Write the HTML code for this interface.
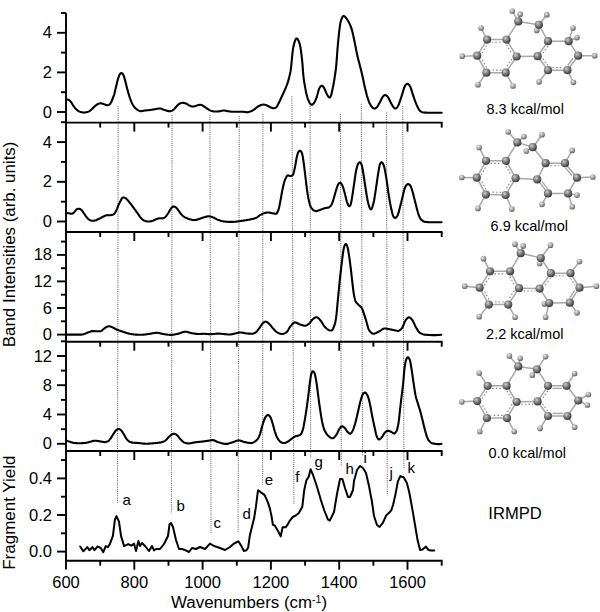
<!DOCTYPE html>
<html><head><meta charset="utf-8"><style>
html,body{margin:0;padding:0;background:#fff;}
body{width:600px;height:612px;overflow:hidden;font-family:"Liberation Sans",sans-serif;}
svg{display:block;}
</style></head><body>
<svg width="600" height="612" viewBox="0 0 600 612">
<rect width="600" height="612" fill="#fff"/>
<line x1="118.20" y1="106.2" x2="117.45" y2="503.8" stroke="#666" stroke-width="1.1" stroke-dasharray="1 1.15"/>
<line x1="172.10" y1="115.0" x2="171.40" y2="513.3" stroke="#666" stroke-width="1.1" stroke-dasharray="1 1.15"/>
<line x1="209.90" y1="114.7" x2="211.00" y2="532.7" stroke="#666" stroke-width="1.1" stroke-dasharray="1 1.15"/>
<line x1="239.30" y1="116.0" x2="238.10" y2="532.0" stroke="#666" stroke-width="1.1" stroke-dasharray="1 1.15"/>
<line x1="262.90" y1="114.0" x2="262.60" y2="484.5" stroke="#666" stroke-width="1.1" stroke-dasharray="1 1.15"/>
<line x1="291.90" y1="96.3" x2="293.90" y2="504.0" stroke="#666" stroke-width="1.1" stroke-dasharray="1 1.15"/>
<line x1="310.10" y1="106.1" x2="310.70" y2="458.7" stroke="#666" stroke-width="1.1" stroke-dasharray="1 1.15"/>
<line x1="340.50" y1="114.0" x2="341.30" y2="466.6" stroke="#666" stroke-width="1.1" stroke-dasharray="1 1.15"/>
<line x1="361.30" y1="103.8" x2="362.60" y2="455.8" stroke="#666" stroke-width="1.1" stroke-dasharray="1 1.15"/>
<line x1="386.50" y1="112.5" x2="387.30" y2="495.5" stroke="#666" stroke-width="1.1" stroke-dasharray="1 1.15"/>
<line x1="402.70" y1="106.1" x2="403.90" y2="468.0" stroke="#666" stroke-width="1.1" stroke-dasharray="1 1.15"/>
<g stroke="#000" stroke-width="1.9" fill="none" stroke-linecap="butt">
<line x1="66" y1="13" x2="66" y2="569.5"/>
<line x1="57" y1="112.0" x2="66" y2="112.0"/>
<line x1="57" y1="72.4" x2="66" y2="72.4"/>
<line x1="57" y1="32.8" x2="66" y2="32.8"/>
<line x1="61" y1="92.2" x2="66" y2="92.2"/>
<line x1="61" y1="52.6" x2="66" y2="52.6"/>
<line x1="61" y1="13.0" x2="66" y2="13.0"/>
<line x1="66" y1="122.6" x2="442.5" y2="122.6"/>
<line x1="100.2" y1="122.6" x2="100.2" y2="127.6"/>
<line x1="134.3" y1="122.6" x2="134.3" y2="131.6"/>
<line x1="168.5" y1="122.6" x2="168.5" y2="127.6"/>
<line x1="202.6" y1="122.6" x2="202.6" y2="131.6"/>
<line x1="236.8" y1="122.6" x2="236.8" y2="127.6"/>
<line x1="270.9" y1="122.6" x2="270.9" y2="131.6"/>
<line x1="305.1" y1="122.6" x2="305.1" y2="127.6"/>
<line x1="339.2" y1="122.6" x2="339.2" y2="131.6"/>
<line x1="373.4" y1="122.6" x2="373.4" y2="127.6"/>
<line x1="407.5" y1="122.6" x2="407.5" y2="131.6"/>
<line x1="441.7" y1="122.6" x2="441.7" y2="127.6"/>
<line x1="57" y1="221.5" x2="66" y2="221.5"/>
<line x1="57" y1="181.8" x2="66" y2="181.8"/>
<line x1="57" y1="142.1" x2="66" y2="142.1"/>
<line x1="61" y1="201.7" x2="66" y2="201.7"/>
<line x1="61" y1="161.9" x2="66" y2="161.9"/>
<line x1="61" y1="122.2" x2="66" y2="122.2"/>
<line x1="66" y1="232.0" x2="442.5" y2="232.0"/>
<line x1="100.2" y1="232.0" x2="100.2" y2="237.0"/>
<line x1="134.3" y1="232.0" x2="134.3" y2="241.0"/>
<line x1="168.5" y1="232.0" x2="168.5" y2="237.0"/>
<line x1="202.6" y1="232.0" x2="202.6" y2="241.0"/>
<line x1="236.8" y1="232.0" x2="236.8" y2="237.0"/>
<line x1="270.9" y1="232.0" x2="270.9" y2="241.0"/>
<line x1="305.1" y1="232.0" x2="305.1" y2="237.0"/>
<line x1="339.2" y1="232.0" x2="339.2" y2="241.0"/>
<line x1="373.4" y1="232.0" x2="373.4" y2="237.0"/>
<line x1="407.5" y1="232.0" x2="407.5" y2="241.0"/>
<line x1="441.7" y1="232.0" x2="441.7" y2="237.0"/>
<line x1="57" y1="334.6" x2="66" y2="334.6"/>
<line x1="57" y1="308.0" x2="66" y2="308.0"/>
<line x1="57" y1="281.4" x2="66" y2="281.4"/>
<line x1="57" y1="254.9" x2="66" y2="254.9"/>
<line x1="61" y1="321.3" x2="66" y2="321.3"/>
<line x1="61" y1="294.7" x2="66" y2="294.7"/>
<line x1="61" y1="268.2" x2="66" y2="268.2"/>
<line x1="61" y1="241.6" x2="66" y2="241.6"/>
<line x1="66" y1="341.7" x2="442.5" y2="341.7"/>
<line x1="100.2" y1="341.7" x2="100.2" y2="346.7"/>
<line x1="134.3" y1="341.7" x2="134.3" y2="350.7"/>
<line x1="168.5" y1="341.7" x2="168.5" y2="346.7"/>
<line x1="202.6" y1="341.7" x2="202.6" y2="350.7"/>
<line x1="236.8" y1="341.7" x2="236.8" y2="346.7"/>
<line x1="270.9" y1="341.7" x2="270.9" y2="350.7"/>
<line x1="305.1" y1="341.7" x2="305.1" y2="346.7"/>
<line x1="339.2" y1="341.7" x2="339.2" y2="350.7"/>
<line x1="373.4" y1="341.7" x2="373.4" y2="346.7"/>
<line x1="407.5" y1="341.7" x2="407.5" y2="350.7"/>
<line x1="441.7" y1="341.7" x2="441.7" y2="346.7"/>
<line x1="57" y1="443.8" x2="66" y2="443.8"/>
<line x1="57" y1="414.5" x2="66" y2="414.5"/>
<line x1="57" y1="385.2" x2="66" y2="385.2"/>
<line x1="57" y1="356.0" x2="66" y2="356.0"/>
<line x1="61" y1="429.2" x2="66" y2="429.2"/>
<line x1="61" y1="399.9" x2="66" y2="399.9"/>
<line x1="61" y1="370.6" x2="66" y2="370.6"/>
<line x1="61" y1="341.3" x2="66" y2="341.3"/>
<line x1="66" y1="451.0" x2="442.5" y2="451.0"/>
<line x1="100.2" y1="451.0" x2="100.2" y2="456.0"/>
<line x1="134.3" y1="451.0" x2="134.3" y2="460.0"/>
<line x1="168.5" y1="451.0" x2="168.5" y2="456.0"/>
<line x1="202.6" y1="451.0" x2="202.6" y2="460.0"/>
<line x1="236.8" y1="451.0" x2="236.8" y2="456.0"/>
<line x1="270.9" y1="451.0" x2="270.9" y2="460.0"/>
<line x1="305.1" y1="451.0" x2="305.1" y2="456.0"/>
<line x1="339.2" y1="451.0" x2="339.2" y2="460.0"/>
<line x1="373.4" y1="451.0" x2="373.4" y2="456.0"/>
<line x1="407.5" y1="451.0" x2="407.5" y2="460.0"/>
<line x1="441.7" y1="451.0" x2="441.7" y2="456.0"/>
<line x1="57" y1="551.6" x2="66" y2="551.6"/>
<line x1="57" y1="515.0" x2="66" y2="515.0"/>
<line x1="57" y1="478.4" x2="66" y2="478.4"/>
<line x1="61" y1="533.3" x2="66" y2="533.3"/>
<line x1="61" y1="496.7" x2="66" y2="496.7"/>
<line x1="61" y1="460.1" x2="66" y2="460.1"/>
<line x1="66" y1="560.7" x2="442.5" y2="560.7"/>
<line x1="100.2" y1="560.7" x2="100.2" y2="565.7"/>
<line x1="134.3" y1="560.7" x2="134.3" y2="569.7"/>
<line x1="168.5" y1="560.7" x2="168.5" y2="565.7"/>
<line x1="202.6" y1="560.7" x2="202.6" y2="569.7"/>
<line x1="236.8" y1="560.7" x2="236.8" y2="565.7"/>
<line x1="270.9" y1="560.7" x2="270.9" y2="569.7"/>
<line x1="305.1" y1="560.7" x2="305.1" y2="565.7"/>
<line x1="339.2" y1="560.7" x2="339.2" y2="569.7"/>
<line x1="373.4" y1="560.7" x2="373.4" y2="565.7"/>
<line x1="407.5" y1="560.7" x2="407.5" y2="569.7"/>
<line x1="441.7" y1="560.7" x2="441.7" y2="565.7"/>
</g>
<g font-family='"Liberation Sans", sans-serif' font-size="16.5" fill="#000">
<text x="52" y="117.5" text-anchor="end">0</text>
<text x="52" y="77.9" text-anchor="end">2</text>
<text x="52" y="38.3" text-anchor="end">4</text>
<text x="52" y="227.0" text-anchor="end">0</text>
<text x="52" y="187.3" text-anchor="end">2</text>
<text x="52" y="147.6" text-anchor="end">4</text>
<text x="52" y="340.1" text-anchor="end">0</text>
<text x="52" y="313.5" text-anchor="end">6</text>
<text x="52" y="286.9" text-anchor="end">12</text>
<text x="52" y="260.4" text-anchor="end">18</text>
<text x="52" y="449.3" text-anchor="end">0</text>
<text x="52" y="420.0" text-anchor="end">4</text>
<text x="52" y="390.7" text-anchor="end">8</text>
<text x="52" y="361.5" text-anchor="end">12</text>
<text x="52" y="557.1" text-anchor="end">0.0</text>
<text x="52" y="520.5" text-anchor="end">0.2</text>
<text x="52" y="483.9" text-anchor="end">0.4</text>
<text x="66.0" y="588" text-anchor="middle">600</text>
<text x="134.3" y="588" text-anchor="middle">800</text>
<text x="202.6" y="588" text-anchor="middle">1000</text>
<text x="270.9" y="588" text-anchor="middle">1200</text>
<text x="339.2" y="588" text-anchor="middle">1400</text>
<text x="407.5" y="588" text-anchor="middle">1600</text>
<text x="171" y="608" font-size="16.9">Wavenumbers (cm<tspan font-size="10.5" dy="-5.5">-1</tspan><tspan dy="5.5">)</tspan></text>
<text font-size="16.9" transform="translate(14.8,347.2) rotate(-90)">Band Intensities (arb. units)</text>
<text font-size="17" transform="translate(14.8,569.8) rotate(-90)">Fragment Yield</text>
</g>
<g stroke="#000" stroke-width="2.1" fill="none" stroke-linejoin="round" stroke-linecap="round">
<path d="M66.0,99.80 66.5,99.67 67.0,99.60 67.5,99.59 68.0,99.66 68.5,99.80 69.0,100.05 69.5,100.42 70.0,100.88 70.5,101.42 71.0,102.00 71.5,102.69 72.0,103.51 72.5,104.39 73.0,105.25 73.5,106.00 74.0,106.67 74.5,107.32 75.0,107.95 75.5,108.53 76.0,109.05 76.5,109.50 77.0,109.91 77.5,110.32 78.0,110.71 78.5,111.07 79.0,111.37 79.5,111.62 80.0,111.80 80.5,111.93 81.0,112.06 81.5,112.18 82.0,112.29 82.5,112.37 83.0,112.44 83.5,112.48 84.0,112.50 84.5,112.49 85.0,112.44 85.5,112.38 86.0,112.29 86.5,112.19 87.0,112.07 87.5,111.94 88.0,111.80 88.5,111.62 89.0,111.36 89.5,111.05 90.0,110.69 90.5,110.31 91.0,109.91 91.5,109.50 92.0,109.06 92.5,108.56 93.0,108.02 93.5,107.47 94.0,106.93 94.5,106.43 95.0,106.00 95.5,105.61 96.0,105.23 96.5,104.87 97.0,104.54 97.5,104.25 98.0,104.00 98.5,103.80 99.0,103.63 99.5,103.47 100.0,103.34 100.5,103.28 101.0,103.30 101.5,103.40 102.0,103.53 102.5,103.69 103.0,103.86 103.5,104.03 104.0,104.20 104.5,104.37 105.0,104.55 105.5,104.73 106.0,104.90 106.5,105.06 107.0,105.20 107.5,105.24 108.0,105.15 108.5,104.99 109.0,104.80 109.5,104.49 110.0,103.95 110.5,103.27 111.0,102.50 111.5,101.51 112.0,100.28 112.5,99.00 113.0,97.77 113.5,96.48 114.0,95.00 114.5,93.22 115.0,91.20 115.5,89.07 116.0,87.00 116.5,84.92 117.0,82.80 117.5,80.77 118.0,79.00 118.5,77.43 119.0,76.00 119.5,74.82 120.0,74.00 120.5,73.46 121.0,73.09 121.5,73.01 122.0,73.21 122.5,73.63 123.0,74.20 123.5,75.14 124.0,76.55 124.5,78.25 125.0,80.00 125.5,81.87 126.0,83.93 126.5,86.02 127.0,88.00 127.5,89.84 128.0,91.62 128.5,93.35 129.0,95.00 129.5,96.63 130.0,98.24 130.5,99.73 131.0,101.00 131.5,102.11 132.0,103.16 132.5,104.14 133.0,105.04 133.5,105.83 134.0,106.50 134.5,107.11 135.0,107.69 135.5,108.25 136.0,108.74 136.5,109.17 137.0,109.50 137.5,109.79 138.0,110.10 138.5,110.40 139.0,110.68 139.5,110.91 140.0,111.09 140.5,111.19 141.0,111.20 141.5,111.14 142.0,111.06 142.5,110.97 143.0,110.86 143.5,110.76 144.0,110.66 144.5,110.57 145.0,110.50 145.5,110.45 146.0,110.40 146.5,110.35 147.0,110.30 147.5,110.26 148.0,110.22 148.5,110.17 149.0,110.12 149.5,110.06 150.0,110.00 150.5,109.93 151.0,109.86 151.5,109.78 152.0,109.70 152.5,109.61 153.0,109.53 153.5,109.44 154.0,109.36 154.5,109.28 155.0,109.20 155.5,109.12 156.0,109.03 156.5,108.93 157.0,108.83 157.5,108.74 158.0,108.66 158.5,108.59 159.0,108.54 159.5,108.51 160.0,108.50 160.5,108.55 161.0,108.65 161.5,108.81 162.0,109.00 162.5,109.21 163.0,109.42 163.5,109.62 164.0,109.80 164.5,109.96 165.0,110.13 165.5,110.30 166.0,110.46 166.5,110.62 167.0,110.77 167.5,110.90 168.0,111.01 168.5,111.10 169.0,111.16 169.5,111.19 170.0,111.20 170.5,111.15 171.0,111.03 171.5,110.84 172.0,110.59 172.5,110.31 173.0,110.00 173.5,109.63 174.0,109.16 174.5,108.64 175.0,108.08 175.5,107.53 176.0,107.00 176.5,106.47 177.0,105.90 177.5,105.34 178.0,104.80 178.5,104.35 179.0,104.00 179.5,103.73 180.0,103.48 180.5,103.26 181.0,103.08 181.5,102.93 182.0,102.84 182.5,102.79 183.0,102.80 183.5,102.86 184.0,102.96 184.5,103.08 185.0,103.24 185.5,103.41 186.0,103.60 186.5,103.80 187.0,104.04 187.5,104.33 188.0,104.66 188.5,104.99 189.0,105.30 189.5,105.58 190.0,105.80 190.5,105.98 191.0,106.15 191.5,106.30 192.0,106.43 192.5,106.51 193.0,106.54 193.5,106.50 194.0,106.41 194.5,106.28 195.0,106.13 195.5,105.97 196.0,105.80 196.5,105.64 197.0,105.50 197.5,105.36 198.0,105.22 198.5,105.08 199.0,104.96 199.5,104.86 200.0,104.80 200.5,104.81 201.0,104.91 201.5,105.09 202.0,105.30 202.5,105.55 203.0,105.80 203.5,106.07 204.0,106.38 204.5,106.72 205.0,107.08 205.5,107.45 206.0,107.82 206.5,108.17 207.0,108.50 207.5,108.82 208.0,109.16 208.5,109.49 209.0,109.82 209.5,110.12 210.0,110.39 210.5,110.62 211.0,110.80 211.5,110.94 212.0,111.07 212.5,111.19 213.0,111.29 213.5,111.38 214.0,111.44 214.5,111.49 215.0,111.50 215.5,111.50 216.0,111.49 216.5,111.47 217.0,111.45 217.5,111.43 218.0,111.39 218.5,111.35 219.0,111.31 219.5,111.26 220.0,111.20 220.5,111.12 221.0,111.00 221.5,110.86 222.0,110.72 222.5,110.61 223.0,110.53 223.5,110.50 224.0,110.52 224.5,110.58 225.0,110.65 225.5,110.74 226.0,110.84 226.5,110.94 227.0,111.03 227.5,111.12 228.0,111.20 228.5,111.27 229.0,111.35 229.5,111.43 230.0,111.51 230.5,111.58 231.0,111.65 231.5,111.71 232.0,111.76 232.5,111.79 233.0,111.80 233.5,111.80 234.0,111.80 234.5,111.80 235.0,111.80 235.5,111.80 236.0,111.80 236.5,111.80 237.0,111.80 237.5,111.80 238.0,111.80 238.5,111.80 239.0,111.80 239.5,111.80 240.0,111.80 240.5,111.80 241.0,111.80 241.5,111.80 242.0,111.80 242.5,111.80 243.0,111.80 243.5,111.81 244.0,111.85 244.5,111.91 245.0,111.98 245.5,112.05 246.0,112.11 246.5,112.17 247.0,112.20 247.5,112.19 248.0,112.13 248.5,112.03 249.0,111.90 249.5,111.74 250.0,111.56 250.5,111.38 251.0,111.20 251.5,111.00 252.0,110.76 252.5,110.48 253.0,110.18 253.5,109.86 254.0,109.53 254.5,109.20 255.0,108.84 255.5,108.45 256.0,108.02 256.5,107.60 257.0,107.19 257.5,106.82 258.0,106.50 258.5,106.22 259.0,105.94 259.5,105.69 260.0,105.45 260.5,105.23 261.0,105.05 261.5,104.90 262.0,104.80 262.5,104.73 263.0,104.68 263.5,104.66 264.0,104.67 264.5,104.71 265.0,104.80 265.5,104.93 266.0,105.11 266.5,105.31 267.0,105.54 267.5,105.77 268.0,106.00 268.5,106.24 269.0,106.50 269.5,106.76 270.0,107.03 270.5,107.28 271.0,107.50 271.5,107.69 272.0,107.87 272.5,108.01 273.0,108.14 273.5,108.23 274.0,108.30 274.5,108.27 275.0,108.09 275.5,107.80 276.0,107.43 276.5,107.00 277.0,106.41 277.5,105.57 278.0,104.58 278.5,103.53 279.0,102.50 279.5,101.49 280.0,100.45 280.5,99.38 281.0,98.29 281.5,97.20 282.0,96.09 282.5,95.00 283.0,93.92 283.5,92.83 284.0,91.75 284.5,90.65 285.0,89.53 285.5,88.38 286.0,87.19 286.5,85.95 287.0,84.61 287.5,83.16 288.0,81.60 288.5,79.90 289.0,78.05 289.5,76.04 290.0,73.86 290.5,71.50 291.0,68.08 291.5,63.27 292.0,57.91 292.5,52.82 293.0,48.81 293.5,46.32 294.0,44.21 294.5,42.35 295.0,40.81 295.5,39.61 296.0,38.82 296.5,38.47 297.0,38.54 297.5,38.96 298.0,39.70 298.5,40.69 299.0,41.88 299.5,43.22 300.0,44.96 300.5,47.60 301.0,50.99 301.5,54.94 302.0,59.28 302.5,64.23 303.0,71.43 303.5,76.76 304.0,80.62 304.5,83.85 305.0,86.68 305.5,89.43 306.0,92.00 306.5,94.23 307.0,96.08 307.5,97.80 308.0,99.33 308.5,100.59 309.0,101.57 309.5,102.51 310.0,103.37 310.5,104.08 311.0,104.56 311.5,104.74 312.0,104.69 312.5,104.46 313.0,104.09 313.5,103.59 314.0,103.00 314.5,102.25 315.0,101.27 315.5,100.12 316.0,98.86 316.5,97.54 317.0,96.11 317.5,94.33 318.0,92.39 318.5,90.52 319.0,88.98 319.5,87.93 320.0,87.10 320.5,86.42 321.0,85.94 321.5,85.71 322.0,85.76 322.5,86.01 323.0,86.44 323.5,87.01 324.0,87.70 324.5,88.64 325.0,89.84 325.5,91.14 326.0,92.37 326.5,93.39 327.0,94.34 327.5,95.25 328.0,96.07 328.5,96.77 329.0,97.30 329.5,97.48 330.0,97.22 330.5,96.60 331.0,95.70 331.5,94.14 332.0,91.82 332.5,89.27 333.0,86.89 333.5,84.42 334.0,81.70 334.5,78.48 335.0,75.00 335.5,71.76 336.0,68.00 336.5,62.41 337.0,55.57 337.5,48.96 338.0,43.33 338.5,37.98 339.0,33.24 339.5,29.24 340.0,25.48 340.5,22.40 341.0,20.52 341.5,19.14 342.0,17.86 342.5,16.81 343.0,16.10 343.5,15.88 344.0,16.08 344.5,16.39 345.0,16.80 345.5,17.29 346.0,17.86 346.5,18.49 347.0,19.20 347.5,19.97 348.0,20.80 348.5,21.68 349.0,22.58 349.5,23.57 350.0,24.66 350.5,25.86 351.0,27.17 351.5,28.60 352.0,30.27 352.5,32.33 353.0,34.56 353.5,36.79 354.0,39.09 354.5,41.47 355.0,43.89 355.5,46.44 356.0,49.07 356.5,51.66 357.0,54.09 357.5,56.28 358.0,58.29 358.5,60.19 359.0,62.07 359.5,64.00 360.0,65.96 360.5,67.91 361.0,69.88 361.5,71.90 362.0,74.00 362.5,76.24 363.0,78.60 363.5,81.03 364.0,83.46 364.5,85.80 365.0,88.00 365.5,90.09 366.0,92.12 366.5,94.06 367.0,95.86 367.5,97.50 368.0,99.03 368.5,100.52 369.0,101.88 369.5,103.07 370.0,104.00 370.5,104.79 371.0,105.56 371.5,106.29 372.0,106.96 372.5,107.54 373.0,108.01 373.5,108.33 374.0,108.50 374.5,108.52 375.0,108.42 375.5,108.22 376.0,107.91 376.5,107.50 377.0,107.00 377.5,106.37 378.0,105.61 378.5,104.75 379.0,103.83 379.5,102.90 380.0,102.00 380.5,101.07 381.0,100.07 381.5,99.05 382.0,98.08 382.5,97.21 383.0,96.50 383.5,95.93 384.0,95.47 384.5,95.14 385.0,95.00 385.5,95.04 386.0,95.23 386.5,95.55 387.0,95.98 387.5,96.50 388.0,97.18 388.5,98.05 389.0,99.03 389.5,100.04 390.0,101.00 390.5,101.95 391.0,102.94 391.5,103.93 392.0,104.89 392.5,105.76 393.0,106.50 393.5,107.13 394.0,107.67 394.5,108.09 395.0,108.38 395.5,108.50 396.0,108.39 396.5,108.02 397.0,107.46 397.5,106.77 398.0,106.00 398.5,105.05 399.0,103.83 399.5,102.44 400.0,100.96 400.5,99.50 401.0,98.02 401.5,96.47 402.0,94.88 402.5,93.30 403.0,91.62 403.5,89.86 404.0,88.21 404.5,86.90 405.0,85.97 405.5,85.18 406.0,84.53 406.5,84.07 407.0,83.80 407.5,83.76 408.0,83.93 408.5,84.28 409.0,84.80 409.5,85.46 410.0,86.25 410.5,87.29 411.0,88.64 411.5,90.18 412.0,91.77 412.5,93.30 413.0,94.80 413.5,96.35 414.0,97.90 414.5,99.40 415.0,100.80 415.5,102.11 416.0,103.37 416.5,104.57 417.0,105.68 417.5,106.70 418.0,107.68 418.5,108.65 419.0,109.55 419.5,110.28 420.0,110.80 420.5,111.18 421.0,111.53 421.5,111.85 422.0,112.13 422.5,112.34 423.0,112.47 423.5,112.51 424.0,112.54 424.5,112.56 425.0,112.59 425.5,112.62 426.0,112.64 426.5,112.66 427.0,112.68 427.5,112.69 428.0,112.70 428.5,112.70 429.0,112.70 429.5,112.70 430.0,112.71 430.5,112.71 431.0,112.71 431.5,112.71 432.0,112.72 432.5,112.72 433.0,112.72 433.5,112.72 434.0,112.73 434.5,112.73 435.0,112.73 435.5,112.73 436.0,112.73 436.5,112.73 437.0,112.73 437.5,112.73 438.0,112.73 438.5,112.73 439.0,112.73 439.5,112.72 440.0,112.72 440.5,112.72 441.0,112.71 441.5,112.70 441.7,112.70"/>
<path d="M66.0,212.80 66.5,212.87 67.0,212.95 67.5,213.03 68.0,213.12 68.5,213.20 69.0,213.29 69.5,213.41 70.0,213.52 70.5,213.63 71.0,213.73 71.5,213.80 72.0,213.76 72.5,213.56 73.0,213.26 73.5,212.89 74.0,212.50 74.5,211.99 75.0,211.32 75.5,210.59 76.0,209.95 76.5,209.50 77.0,209.23 77.5,209.02 78.0,208.87 78.5,208.80 79.0,208.80 79.5,208.88 80.0,209.05 80.5,209.30 81.0,209.62 81.5,210.00 82.0,210.52 82.5,211.19 83.0,211.96 83.5,212.75 84.0,213.50 84.5,214.22 85.0,214.95 85.5,215.68 86.0,216.37 86.5,217.00 87.0,217.59 87.5,218.16 88.0,218.69 88.5,219.14 89.0,219.50 89.5,219.80 90.0,220.09 90.5,220.35 91.0,220.57 91.5,220.72 92.0,220.80 92.5,220.82 93.0,220.81 93.5,220.77 94.0,220.71 94.5,220.62 95.0,220.50 95.5,220.35 96.0,220.17 96.5,219.97 97.0,219.75 97.5,219.53 98.0,219.30 98.5,219.07 99.0,218.83 99.5,218.57 100.0,218.32 100.5,218.06 101.0,217.80 101.5,217.53 102.0,217.25 102.5,216.97 103.0,216.69 103.5,216.43 104.0,216.20 104.5,215.98 105.0,215.77 105.5,215.57 106.0,215.40 106.5,215.28 107.0,215.20 107.5,215.17 108.0,215.17 108.5,215.19 109.0,215.21 109.5,215.21 110.0,215.20 110.5,215.16 111.0,215.09 111.5,215.00 112.0,214.90 112.5,214.80 113.0,214.62 113.5,214.33 114.0,213.94 114.5,213.50 115.0,212.89 115.5,212.05 116.0,211.05 116.5,210.00 117.0,208.84 117.5,207.53 118.0,206.21 118.5,205.00 119.0,203.92 119.5,202.90 120.0,201.91 120.5,200.95 121.0,200.00 121.5,198.96 122.0,198.20 122.5,197.85 123.0,197.60 123.5,197.48 124.0,197.50 124.5,197.64 125.0,197.86 125.5,198.15 126.0,198.50 126.5,198.92 127.0,199.42 127.5,199.98 128.0,200.58 128.5,201.19 129.0,201.80 129.5,202.41 130.0,203.04 130.5,203.68 131.0,204.33 131.5,204.99 132.0,205.66 132.5,206.33 133.0,207.00 133.5,207.67 134.0,208.35 134.5,209.04 135.0,209.73 135.5,210.42 136.0,211.12 136.5,211.81 137.0,212.50 137.5,213.20 138.0,213.93 138.5,214.67 139.0,215.40 139.5,216.11 140.0,216.79 140.5,217.43 141.0,218.00 141.5,218.53 142.0,219.04 142.5,219.51 143.0,219.93 143.5,220.26 144.0,220.50 144.5,220.69 145.0,220.87 145.5,221.03 146.0,221.19 146.5,221.31 147.0,221.41 147.5,221.48 148.0,221.50 148.5,221.49 149.0,221.47 149.5,221.44 150.0,221.39 150.5,221.32 151.0,221.23 151.5,221.12 152.0,221.00 152.5,220.84 153.0,220.65 153.5,220.44 154.0,220.20 154.5,219.96 155.0,219.73 155.5,219.50 156.0,219.30 156.5,219.11 157.0,218.92 157.5,218.74 158.0,218.57 158.5,218.42 159.0,218.30 159.5,218.22 160.0,218.20 160.5,218.22 161.0,218.26 161.5,218.30 162.0,218.34 162.5,218.34 163.0,218.30 163.5,218.17 164.0,217.92 164.5,217.60 165.0,217.21 165.5,216.80 166.0,216.31 166.5,215.69 167.0,214.99 167.5,214.25 168.0,213.50 168.5,212.70 169.0,211.81 169.5,210.89 170.0,209.99 170.5,209.18 171.0,208.50 171.5,207.93 172.0,207.40 172.5,206.97 173.0,206.66 173.5,206.50 174.0,206.50 174.5,206.61 175.0,206.82 175.5,207.12 176.0,207.50 176.5,207.98 177.0,208.56 177.5,209.20 178.0,209.89 178.5,210.57 179.0,211.23 179.5,211.91 180.0,212.61 180.5,213.32 181.0,213.99 181.5,214.59 182.0,215.09 182.5,215.55 183.0,215.99 183.5,216.38 184.0,216.75 184.5,217.07 185.0,217.35 185.5,217.59 186.0,217.82 186.5,218.05 187.0,218.26 187.5,218.47 188.0,218.67 188.5,218.85 189.0,219.02 189.5,219.17 190.0,219.30 190.5,219.43 191.0,219.56 191.5,219.68 192.0,219.81 192.5,219.92 193.0,220.01 193.5,220.07 194.0,220.11 194.5,220.11 195.0,220.07 195.5,220.00 196.0,219.90 196.5,219.77 197.0,219.63 197.5,219.48 198.0,219.32 198.5,219.15 199.0,218.99 199.5,218.84 200.0,218.68 200.5,218.50 201.0,218.32 201.5,218.14 202.0,217.96 202.5,217.78 203.0,217.61 203.5,217.45 204.0,217.30 204.5,217.16 205.0,217.01 205.5,216.87 206.0,216.73 206.5,216.61 207.0,216.50 207.5,216.41 208.0,216.35 208.5,216.31 209.0,216.30 209.5,216.34 210.0,216.42 210.5,216.54 211.0,216.68 211.5,216.84 212.0,217.02 212.5,217.20 213.0,217.39 213.5,217.58 214.0,217.79 214.5,218.03 215.0,218.30 215.5,218.57 216.0,218.85 216.5,219.12 217.0,219.37 217.5,219.60 218.0,219.80 218.5,219.98 219.0,220.15 219.5,220.33 220.0,220.49 220.5,220.65 221.0,220.80 221.5,220.94 222.0,221.07 222.5,221.18 223.0,221.28 223.5,221.36 224.0,221.42 224.5,221.49 225.0,221.55 225.5,221.60 226.0,221.66 226.5,221.71 227.0,221.76 227.5,221.80 228.0,221.84 228.5,221.87 229.0,221.89 229.5,221.90 230.0,221.90 230.5,221.90 231.0,221.90 231.5,221.89 232.0,221.88 232.5,221.87 233.0,221.85 233.5,221.83 234.0,221.80 234.5,221.77 235.0,221.74 235.5,221.70 236.0,221.65 236.5,221.60 237.0,221.54 237.5,221.47 238.0,221.40 238.5,221.32 239.0,221.25 239.5,221.17 240.0,221.10 240.5,221.03 241.0,220.96 241.5,220.89 242.0,220.82 242.5,220.75 243.0,220.68 243.5,220.60 244.0,220.53 244.5,220.45 245.0,220.38 245.5,220.30 246.0,220.22 246.5,220.14 247.0,220.05 247.5,219.96 248.0,219.87 248.5,219.78 249.0,219.69 249.5,219.59 250.0,219.50 250.5,219.40 251.0,219.30 251.5,219.20 252.0,219.09 252.5,218.98 253.0,218.86 253.5,218.74 254.0,218.60 254.5,218.45 255.0,218.29 255.5,218.11 256.0,217.92 256.5,217.67 257.0,217.36 257.5,217.01 258.0,216.64 258.5,216.26 259.0,215.87 259.5,215.50 260.0,215.16 260.5,214.85 261.0,214.59 261.5,214.32 262.0,214.06 262.5,213.81 263.0,213.58 263.5,213.38 264.0,213.20 264.5,213.05 265.0,212.93 265.5,212.82 266.0,212.71 266.5,212.62 267.0,212.54 267.5,212.49 268.0,212.46 268.5,212.47 269.0,212.52 269.5,212.60 270.0,212.70 270.5,212.81 271.0,212.93 271.5,213.05 272.0,213.17 272.5,213.29 273.0,213.40 273.5,213.50 274.0,213.58 274.5,213.65 275.0,213.71 275.5,213.76 276.0,213.80 276.5,213.60 277.0,212.99 277.5,212.08 278.0,210.97 278.5,209.74 279.0,207.96 279.5,205.62 280.0,203.01 280.5,200.40 281.0,197.69 281.5,194.77 282.0,191.91 282.5,189.40 283.0,187.17 283.5,185.02 284.0,183.02 284.5,181.25 285.0,179.79 285.5,178.68 286.0,177.64 286.5,176.69 287.0,175.94 287.5,175.48 288.0,175.41 288.5,175.49 289.0,175.64 289.5,175.80 290.0,175.94 290.5,176.00 291.0,175.95 291.5,175.79 292.0,175.54 292.5,175.22 293.0,174.76 293.5,173.50 294.0,171.58 294.5,169.32 295.0,167.04 295.5,164.32 296.0,161.30 296.5,158.52 297.0,156.32 297.5,154.32 298.0,152.72 298.5,151.76 299.0,151.20 299.5,150.84 300.0,150.70 300.5,150.86 301.0,151.40 301.5,152.21 302.0,153.24 302.5,155.21 303.0,158.11 303.5,161.43 304.0,165.01 304.5,169.12 305.0,173.41 305.5,177.54 306.0,181.72 306.5,185.83 307.0,189.60 307.5,193.07 308.0,196.29 308.5,199.01 309.0,201.13 309.5,203.11 310.0,204.88 310.5,206.32 311.0,207.30 311.5,208.01 312.0,208.68 312.5,209.29 313.0,209.81 313.5,210.20 314.0,210.44 314.5,210.64 315.0,210.84 315.5,211.02 316.0,211.13 316.5,211.13 317.0,211.03 317.5,210.88 318.0,210.71 318.5,210.52 319.0,210.32 319.5,210.13 320.0,209.94 320.5,209.75 321.0,209.56 321.5,209.36 322.0,209.17 322.5,208.97 323.0,208.78 323.5,208.60 324.0,208.43 324.5,208.28 325.0,208.16 325.5,208.07 326.0,207.98 326.5,207.91 327.0,207.83 327.5,207.74 328.0,207.63 328.5,207.47 329.0,207.23 329.5,206.91 330.0,206.53 330.5,206.09 331.0,205.60 331.5,204.84 332.0,203.70 332.5,202.31 333.0,200.80 333.5,199.29 334.0,197.61 334.5,195.80 335.0,193.97 335.5,192.23 336.0,190.57 336.5,188.87 337.0,187.25 337.5,185.86 338.0,184.82 338.5,183.99 339.0,183.33 339.5,182.88 340.0,182.70 340.5,182.84 341.0,183.29 341.5,183.98 342.0,184.84 342.5,185.81 343.0,187.08 343.5,188.67 344.0,190.45 344.5,192.28 345.0,194.13 345.5,196.22 346.0,198.37 346.5,200.40 347.0,202.10 347.5,203.49 348.0,204.69 348.5,205.61 349.0,206.18 349.5,206.24 350.0,205.81 350.5,205.00 351.0,203.31 351.5,200.69 352.0,197.86 352.5,194.74 353.0,191.40 353.5,188.02 354.0,184.67 354.5,181.11 355.0,177.52 355.5,174.17 356.0,171.30 356.5,168.94 357.0,166.89 357.5,165.23 358.0,164.10 358.5,163.32 359.0,162.68 359.5,162.29 360.0,162.23 360.5,162.63 361.0,163.41 361.5,164.47 362.0,166.02 362.5,168.49 363.0,171.45 363.5,174.50 364.0,177.63 364.5,181.03 365.0,184.50 365.5,187.88 366.0,191.00 366.5,194.06 367.0,197.06 367.5,199.87 368.0,202.31 368.5,204.25 369.0,205.93 369.5,207.40 370.0,208.56 370.5,209.25 371.0,209.37 371.5,208.88 372.0,207.90 372.5,206.54 373.0,204.93 373.5,203.14 374.0,200.80 374.5,197.97 375.0,194.85 375.5,191.66 376.0,188.46 376.5,185.00 377.0,181.41 377.5,177.85 378.0,174.53 378.5,171.47 379.0,168.44 379.5,165.82 380.0,164.10 380.5,163.11 381.0,162.44 381.5,162.19 382.0,162.40 382.5,162.96 383.0,163.79 383.5,164.84 384.0,166.15 384.5,168.12 385.0,170.60 385.5,173.40 386.0,176.32 386.5,179.38 387.0,182.83 387.5,186.48 388.0,190.10 388.5,193.47 389.0,196.56 389.5,199.57 390.0,202.44 390.5,205.11 391.0,207.50 391.5,209.76 392.0,211.99 392.5,214.00 393.0,215.63 393.5,216.70 394.0,217.36 394.5,217.82 395.0,218.03 395.5,217.92 396.0,217.59 396.5,217.06 397.0,216.36 397.5,215.49 398.0,214.44 398.5,212.96 399.0,211.13 399.5,209.11 400.0,207.08 400.5,205.15 401.0,203.17 401.5,201.16 402.0,199.12 402.5,197.09 403.0,194.90 403.5,192.69 404.0,190.69 404.5,189.12 405.0,187.75 405.5,186.56 406.0,185.62 406.5,185.00 407.0,184.59 407.5,184.27 408.0,184.11 408.5,184.15 409.0,184.39 409.5,184.79 410.0,185.32 410.5,185.94 411.0,186.92 411.5,188.28 412.0,189.88 412.5,191.57 413.0,193.31 413.5,195.24 414.0,197.27 414.5,199.30 415.0,201.29 415.5,203.32 416.0,205.34 416.5,207.30 417.0,209.16 417.5,211.01 418.0,212.79 418.5,214.40 419.0,215.70 419.5,216.78 420.0,217.78 420.5,218.67 421.0,219.40 421.5,219.92 422.0,220.29 422.5,220.65 423.0,221.00 423.5,221.31 424.0,221.58 424.5,221.78 425.0,221.89 425.5,221.94 426.0,221.98 426.5,222.03 427.0,222.07 427.5,222.11 428.0,222.15 428.5,222.18 429.0,222.19 429.5,222.20 430.0,222.21 430.5,222.21 431.0,222.21 431.5,222.22 432.0,222.22 432.5,222.23 433.0,222.23 433.5,222.24 434.0,222.24 434.5,222.25 435.0,222.25 435.5,222.25 436.0,222.25 436.5,222.26 437.0,222.26 437.5,222.25 438.0,222.25 438.5,222.25 439.0,222.25 439.5,222.24 440.0,222.23 440.5,222.22 441.0,222.21 441.5,222.20 441.6,222.20"/>
<path d="M66.0,334.60 66.5,334.60 67.0,334.60 67.5,334.60 68.0,334.60 68.5,334.60 69.0,334.60 69.5,334.60 70.0,334.60 70.5,334.60 71.0,334.60 71.5,334.60 72.0,334.60 72.5,334.60 73.0,334.60 73.5,334.60 74.0,334.60 74.5,334.60 75.0,334.60 75.5,334.60 76.0,334.60 76.5,334.60 77.0,334.60 77.5,334.60 78.0,334.60 78.5,334.60 79.0,334.60 79.5,334.60 80.0,334.60 80.5,334.60 81.0,334.60 81.5,334.60 82.0,334.57 82.5,334.49 83.0,334.36 83.5,334.21 84.0,334.04 84.5,333.87 85.0,333.70 85.5,333.53 86.0,333.33 86.5,333.12 87.0,332.90 87.5,332.69 88.0,332.48 88.5,332.30 89.0,332.12 89.5,331.93 90.0,331.73 90.5,331.55 91.0,331.38 91.5,331.24 92.0,331.15 92.5,331.10 93.0,331.10 93.5,331.12 94.0,331.14 94.5,331.17 95.0,331.21 95.5,331.24 96.0,331.27 96.5,331.30 97.0,331.30 97.5,331.31 98.0,331.30 98.5,331.29 99.0,331.26 99.5,331.23 100.0,331.19 100.5,331.14 101.0,331.06 101.5,330.83 102.0,330.48 102.5,330.04 103.0,329.58 103.5,329.15 104.0,328.78 104.5,328.38 105.0,327.97 105.5,327.58 106.0,327.23 106.5,326.95 107.0,326.73 107.5,326.55 108.0,326.40 108.5,326.31 109.0,326.27 109.5,326.30 110.0,326.39 110.5,326.53 111.0,326.70 111.5,326.91 112.0,327.12 112.5,327.35 113.0,327.59 113.5,327.87 114.0,328.16 114.5,328.45 115.0,328.74 115.5,329.01 116.0,329.24 116.5,329.46 117.0,329.68 117.5,329.88 118.0,330.07 118.5,330.26 119.0,330.45 119.5,330.63 120.0,330.80 120.5,330.97 121.0,331.14 121.5,331.30 122.0,331.46 122.5,331.62 123.0,331.77 123.5,331.93 124.0,332.08 124.5,332.24 125.0,332.40 125.5,332.56 126.0,332.73 126.5,332.90 127.0,333.06 127.5,333.22 128.0,333.37 128.5,333.51 129.0,333.64 129.5,333.74 130.0,333.84 130.5,333.93 131.0,334.02 131.5,334.11 132.0,334.19 132.5,334.26 133.0,334.33 133.5,334.39 134.0,334.45 134.5,334.50 135.0,334.55 135.5,334.58 136.0,334.61 136.5,334.64 137.0,334.67 137.5,334.69 138.0,334.71 138.5,334.73 139.0,334.75 139.5,334.76 140.0,334.77 140.5,334.77 141.0,334.77 141.5,334.76 142.0,334.74 142.5,334.72 143.0,334.69 143.5,334.64 144.0,334.60 144.5,334.54 145.0,334.48 145.5,334.42 146.0,334.35 146.5,334.28 147.0,334.21 147.5,334.13 148.0,334.06 148.5,333.98 149.0,333.91 149.5,333.84 150.0,333.77 150.5,333.70 151.0,333.61 151.5,333.52 152.0,333.43 152.5,333.34 153.0,333.25 153.5,333.16 154.0,333.07 154.5,333.00 155.0,332.93 155.5,332.87 156.0,332.83 156.5,332.81 157.0,332.80 157.5,332.82 158.0,332.87 158.5,332.94 159.0,333.02 159.5,333.13 160.0,333.24 160.5,333.36 161.0,333.49 161.5,333.61 162.0,333.74 162.5,333.85 163.0,333.96 163.5,334.05 164.0,334.13 164.5,334.21 165.0,334.28 165.5,334.36 166.0,334.44 166.5,334.51 167.0,334.58 167.5,334.65 168.0,334.71 168.5,334.77 169.0,334.81 169.5,334.85 170.0,334.88 170.5,334.90 171.0,334.90 171.5,334.89 172.0,334.85 172.5,334.81 173.0,334.74 173.5,334.67 174.0,334.59 174.5,334.49 175.0,334.39 175.5,334.29 176.0,334.18 176.5,334.07 177.0,333.97 177.5,333.86 178.0,333.76 178.5,333.63 179.0,333.49 179.5,333.33 180.0,333.15 180.5,332.97 181.0,332.79 181.5,332.60 182.0,332.42 182.5,332.25 183.0,332.10 183.5,331.96 184.0,331.85 184.5,331.77 185.0,331.71 185.5,331.70 186.0,331.73 186.5,331.79 187.0,331.89 187.5,332.01 188.0,332.15 188.5,332.30 189.0,332.46 189.5,332.62 190.0,332.77 190.5,332.92 191.0,333.05 191.5,333.15 192.0,333.23 192.5,333.30 193.0,333.38 193.5,333.46 194.0,333.54 194.5,333.61 195.0,333.68 195.5,333.75 196.0,333.81 196.5,333.87 197.0,333.91 197.5,333.95 198.0,333.98 198.5,334.00 199.0,334.00 199.5,333.99 200.0,333.97 200.5,333.95 201.0,333.92 201.5,333.88 202.0,333.85 202.5,333.83 203.0,333.81 203.5,333.80 204.0,333.80 204.5,333.82 205.0,333.84 205.5,333.87 206.0,333.91 206.5,333.96 207.0,334.00 207.5,334.05 208.0,334.09 208.5,334.13 209.0,334.16 209.5,334.18 210.0,334.20 210.5,334.20 211.0,334.19 211.5,334.16 212.0,334.13 212.5,334.08 213.0,334.03 213.5,333.97 214.0,333.92 214.5,333.86 215.0,333.80 215.5,333.74 216.0,333.70 216.5,333.65 217.0,333.62 217.5,333.60 218.0,333.60 218.5,333.61 219.0,333.62 219.5,333.65 220.0,333.69 220.5,333.73 221.0,333.77 221.5,333.82 222.0,333.87 222.5,333.92 223.0,333.98 223.5,334.03 224.0,334.08 224.5,334.13 225.0,334.18 225.5,334.22 226.0,334.26 226.5,334.31 227.0,334.35 227.5,334.40 228.0,334.44 228.5,334.47 229.0,334.49 229.5,334.50 230.0,334.50 230.5,334.47 231.0,334.41 231.5,334.33 232.0,334.23 232.5,334.11 233.0,333.99 233.5,333.87 234.0,333.75 234.5,333.64 235.0,333.54 235.5,333.43 236.0,333.32 236.5,333.19 237.0,333.07 237.5,332.95 238.0,332.84 238.5,332.74 239.0,332.65 239.5,332.58 240.0,332.53 240.5,332.50 241.0,332.50 241.5,332.54 242.0,332.60 242.5,332.67 243.0,332.77 243.5,332.87 244.0,332.98 244.5,333.09 245.0,333.19 245.5,333.28 246.0,333.36 246.5,333.42 247.0,333.47 247.5,333.52 248.0,333.56 248.5,333.59 249.0,333.62 249.5,333.64 250.0,333.66 250.5,333.68 251.0,333.69 251.5,333.70 252.0,333.70 252.5,333.69 253.0,333.61 253.5,333.47 254.0,333.29 254.5,333.06 255.0,332.80 255.5,332.52 256.0,332.20 256.5,331.76 257.0,331.21 257.5,330.59 258.0,329.92 258.5,329.24 259.0,328.56 259.5,327.89 260.0,327.15 260.5,326.36 261.0,325.56 261.5,324.78 262.0,324.08 262.5,323.50 263.0,323.03 263.5,322.62 264.0,322.26 264.5,321.97 265.0,321.77 265.5,321.67 266.0,321.70 266.5,321.85 267.0,322.10 267.5,322.43 268.0,322.82 268.5,323.26 269.0,323.72 269.5,324.19 270.0,324.72 270.5,325.30 271.0,325.92 271.5,326.55 272.0,327.18 272.5,327.80 273.0,328.38 273.5,328.91 274.0,329.44 274.5,329.97 275.0,330.49 275.5,330.98 276.0,331.44 276.5,331.86 277.0,332.22 277.5,332.51 278.0,332.78 278.5,333.02 279.0,333.25 279.5,333.45 280.0,333.62 280.5,333.76 281.0,333.87 281.5,333.95 282.0,334.00 282.5,333.99 283.0,333.93 283.5,333.80 284.0,333.62 284.5,333.40 285.0,333.14 285.5,332.84 286.0,332.51 286.5,332.15 287.0,331.73 287.5,331.13 288.0,330.37 288.5,329.52 289.0,328.62 289.5,327.74 290.0,326.92 290.5,326.23 291.0,325.67 291.5,325.11 292.0,324.54 292.5,323.99 293.0,323.49 293.5,323.05 294.0,322.70 294.5,322.47 295.0,322.38 295.5,322.44 296.0,322.58 296.5,322.76 297.0,322.98 297.5,323.23 298.0,323.49 298.5,323.74 299.0,323.99 299.5,324.21 300.0,324.40 300.5,324.57 301.0,324.74 301.5,324.91 302.0,325.07 302.5,325.23 303.0,325.37 303.5,325.49 304.0,325.60 304.5,325.68 305.0,325.71 305.5,325.66 306.0,325.53 306.5,325.34 307.0,325.09 307.5,324.79 308.0,324.47 308.5,324.14 309.0,323.77 309.5,323.27 310.0,322.67 310.5,322.00 311.0,321.31 311.5,320.63 312.0,320.01 312.5,319.48 313.0,319.05 313.5,318.65 314.0,318.28 314.5,317.95 315.0,317.67 315.5,317.46 316.0,317.32 316.5,317.29 317.0,317.36 317.5,317.56 318.0,317.88 318.5,318.30 319.0,318.78 319.5,319.32 320.0,319.89 320.5,320.47 321.0,321.07 321.5,321.77 322.0,322.56 322.5,323.39 323.0,324.23 323.5,325.05 324.0,325.81 324.5,326.47 325.0,327.02 325.5,327.53 326.0,328.01 326.5,328.46 327.0,328.87 327.5,329.24 328.0,329.58 328.5,329.89 329.0,330.15 329.5,330.34 330.0,330.45 330.5,330.50 331.0,330.49 331.5,330.42 332.0,330.30 332.5,329.86 333.0,328.95 333.5,327.76 334.0,326.49 334.5,325.20 335.0,323.48 335.5,321.22 336.0,318.40 336.5,314.44 337.0,309.30 337.5,303.68 338.0,298.30 338.5,293.21 339.0,288.08 339.5,283.03 340.0,278.20 340.5,273.56 341.0,269.06 341.5,264.78 342.0,260.80 342.5,256.86 343.0,253.00 343.5,249.68 344.0,247.40 344.5,245.91 345.0,244.76 345.5,244.10 346.0,244.07 346.5,244.63 347.0,245.65 347.5,247.01 348.0,249.23 348.5,252.19 349.0,255.40 349.5,258.77 350.0,262.47 350.5,266.39 351.0,270.45 351.5,274.83 352.0,279.33 352.5,283.60 353.0,287.79 353.5,291.84 354.0,295.10 354.5,297.42 355.0,299.46 355.5,301.09 356.0,302.16 356.5,302.76 357.0,303.29 357.5,303.77 358.0,304.24 358.5,304.71 359.0,305.20 359.5,305.66 360.0,306.11 360.5,306.58 361.0,307.10 361.5,307.70 362.0,308.52 362.5,309.63 363.0,310.93 363.5,312.35 364.0,313.82 364.5,315.30 365.0,316.91 365.5,318.61 366.0,320.33 366.5,322.00 367.0,323.74 367.5,325.60 368.0,327.40 368.5,328.94 369.0,330.05 369.5,330.74 370.0,331.38 370.5,331.97 371.0,332.49 371.5,332.94 372.0,333.30 372.5,333.57 373.0,333.73 373.5,333.78 374.0,333.70 374.5,333.55 375.0,333.37 375.5,333.18 376.0,332.98 376.5,332.76 377.0,332.53 377.5,332.29 378.0,332.05 378.5,331.80 379.0,331.55 379.5,331.26 380.0,330.94 380.5,330.59 381.0,330.22 381.5,329.86 382.0,329.51 382.5,329.20 383.0,328.92 383.5,328.71 384.0,328.56 384.5,328.50 385.0,328.50 385.5,328.52 386.0,328.57 386.5,328.63 387.0,328.71 387.5,328.81 388.0,328.91 388.5,329.02 389.0,329.13 389.5,329.24 390.0,329.34 390.5,329.44 391.0,329.54 391.5,329.63 392.0,329.73 392.5,329.84 393.0,329.95 393.5,330.06 394.0,330.17 394.5,330.28 395.0,330.39 395.5,330.49 396.0,330.59 396.5,330.69 397.0,330.78 397.5,330.86 398.0,330.92 398.5,330.87 399.0,330.70 399.5,330.43 400.0,330.07 400.5,329.64 401.0,329.16 401.5,328.64 402.0,328.10 402.5,327.36 403.0,326.30 403.5,325.04 404.0,323.70 404.5,322.41 405.0,321.27 405.5,320.40 406.0,319.72 406.5,319.07 407.0,318.49 407.5,317.99 408.0,317.61 408.5,317.37 409.0,317.30 409.5,317.41 410.0,317.66 410.5,318.04 411.0,318.53 411.5,319.10 412.0,319.73 412.5,320.40 413.0,321.19 413.5,322.16 414.0,323.23 414.5,324.36 415.0,325.47 415.5,326.50 416.0,327.40 416.5,328.22 417.0,329.04 417.5,329.85 418.0,330.62 418.5,331.33 419.0,331.96 419.5,332.49 420.0,332.88 420.5,333.16 421.0,333.41 421.5,333.65 422.0,333.87 422.5,334.07 423.0,334.25 423.5,334.40 424.0,334.53 424.5,334.63 425.0,334.69 425.5,334.73 426.0,334.77 426.5,334.80 427.0,334.84 427.5,334.87 428.0,334.91 428.5,334.94 429.0,334.97 429.5,334.99 430.0,335.02 430.5,335.04 431.0,335.06 431.5,335.08 432.0,335.09 432.5,335.11 433.0,335.11 433.5,335.12 434.0,335.12 434.5,335.12 435.0,335.12 435.5,335.11 436.0,335.10 436.5,335.08 437.0,335.06 437.5,335.04 438.0,335.01 438.5,334.97 439.0,334.93 439.5,334.89 440.0,334.84 440.5,334.79 441.0,334.73 441.2,334.70"/>
<path d="M66.0,440.40 66.5,440.60 67.0,440.81 67.5,441.00 68.0,441.19 68.5,441.37 69.0,441.54 69.5,441.71 70.0,441.86 70.5,442.02 71.0,442.18 71.5,442.33 72.0,442.48 72.5,442.63 73.0,442.75 73.5,442.86 74.0,442.94 74.5,443.00 75.0,443.04 75.5,443.07 76.0,443.11 76.5,443.13 77.0,443.16 77.5,443.18 78.0,443.19 78.5,443.20 79.0,443.21 79.5,443.21 80.0,443.20 80.5,443.20 81.0,443.18 81.5,443.17 82.0,443.15 82.5,443.12 83.0,443.10 83.5,443.06 84.0,443.02 84.5,442.98 85.0,442.93 85.5,442.88 86.0,442.82 86.5,442.76 87.0,442.66 87.5,442.55 88.0,442.41 88.5,442.27 89.0,442.11 89.5,441.96 90.0,441.81 90.5,441.68 91.0,441.55 91.5,441.42 92.0,441.27 92.5,441.13 93.0,440.99 93.5,440.88 94.0,440.78 94.5,440.72 95.0,440.70 95.5,440.71 96.0,440.75 96.5,440.80 97.0,440.87 97.5,440.95 98.0,441.03 98.5,441.12 99.0,441.20 99.5,441.28 100.0,441.36 100.5,441.45 101.0,441.54 101.5,441.63 102.0,441.72 102.5,441.82 103.0,441.90 103.5,441.99 104.0,442.06 104.5,442.12 105.0,442.11 105.5,442.05 106.0,441.93 106.5,441.78 107.0,441.60 107.5,441.41 108.0,441.21 108.5,440.87 109.0,440.40 109.5,439.84 110.0,439.21 110.5,438.56 111.0,437.89 111.5,437.13 112.0,436.31 112.5,435.46 113.0,434.63 113.5,433.85 114.0,433.11 114.5,432.35 115.0,431.62 115.5,430.94 116.0,430.35 116.5,429.90 117.0,429.56 117.5,429.28 118.0,429.09 118.5,429.00 119.0,429.02 119.5,429.17 120.0,429.44 120.5,429.79 121.0,430.21 121.5,430.72 122.0,431.37 122.5,432.13 123.0,432.96 123.5,433.81 124.0,434.64 124.5,435.46 125.0,436.34 125.5,437.24 126.0,438.10 126.5,438.87 127.0,439.50 127.5,440.02 128.0,440.51 128.5,440.95 129.0,441.34 129.5,441.67 130.0,441.92 130.5,442.10 131.0,442.23 131.5,442.36 132.0,442.49 132.5,442.60 133.0,442.69 133.5,442.76 134.0,442.80 134.5,442.82 135.0,442.83 135.5,442.84 136.0,442.85 136.5,442.87 137.0,442.90 137.5,442.94 138.0,442.99 138.5,443.04 139.0,443.09 139.5,443.15 140.0,443.21 140.5,443.27 141.0,443.33 141.5,443.39 142.0,443.45 142.5,443.51 143.0,443.56 143.5,443.60 144.0,443.64 144.5,443.67 145.0,443.69 145.5,443.71 146.0,443.71 146.5,443.71 147.0,443.70 147.5,443.69 148.0,443.67 148.5,443.64 149.0,443.61 149.5,443.58 150.0,443.54 150.5,443.51 151.0,443.47 151.5,443.43 152.0,443.39 152.5,443.36 153.0,443.32 153.5,443.29 154.0,443.25 154.5,443.21 155.0,443.16 155.5,443.11 156.0,443.06 156.5,443.00 157.0,442.94 157.5,442.88 158.0,442.81 158.5,442.75 159.0,442.68 159.5,442.61 160.0,442.54 160.5,442.47 161.0,442.38 161.5,442.26 162.0,442.11 162.5,441.95 163.0,441.76 163.5,441.55 164.0,441.32 164.5,441.07 165.0,440.80 165.5,440.46 166.0,440.03 166.5,439.52 167.0,438.96 167.5,438.38 168.0,437.81 168.5,437.27 169.0,436.79 169.5,436.36 170.0,435.92 170.5,435.49 171.0,435.07 171.5,434.69 172.0,434.35 172.5,434.07 173.0,433.86 173.5,433.74 174.0,433.71 174.5,433.79 175.0,433.94 175.5,434.16 176.0,434.44 176.5,434.76 177.0,435.14 177.5,435.62 178.0,436.19 178.5,436.81 179.0,437.47 179.5,438.12 180.0,438.74 180.5,439.30 181.0,439.79 181.5,440.26 182.0,440.74 182.5,441.21 183.0,441.64 183.5,442.03 184.0,442.35 184.5,442.60 185.0,442.76 185.5,442.90 186.0,443.03 186.5,443.15 187.0,443.26 187.5,443.35 188.0,443.41 188.5,443.45 189.0,443.44 189.5,443.40 190.0,443.33 190.5,443.24 191.0,443.15 191.5,443.04 192.0,442.94 192.5,442.83 193.0,442.72 193.5,442.61 194.0,442.51 194.5,442.42 195.0,442.34 195.5,442.27 196.0,442.21 196.5,442.16 197.0,442.10 197.5,442.05 198.0,442.01 198.5,441.96 199.0,441.91 199.5,441.87 200.0,441.82 200.5,441.77 201.0,441.72 201.5,441.66 202.0,441.60 202.5,441.54 203.0,441.47 203.5,441.40 204.0,441.34 204.5,441.27 205.0,441.20 205.5,441.13 206.0,441.06 206.5,440.98 207.0,440.91 207.5,440.84 208.0,440.77 208.5,440.69 209.0,440.60 209.5,440.50 210.0,440.41 210.5,440.31 211.0,440.23 211.5,440.17 212.0,440.12 212.5,440.10 213.0,440.13 213.5,440.22 214.0,440.36 214.5,440.54 215.0,440.75 215.5,440.99 216.0,441.23 216.5,441.48 217.0,441.71 217.5,441.93 218.0,442.11 218.5,442.26 219.0,442.40 219.5,442.55 220.0,442.70 220.5,442.85 221.0,443.00 221.5,443.15 222.0,443.29 222.5,443.42 223.0,443.54 223.5,443.65 224.0,443.74 224.5,443.81 225.0,443.87 225.5,443.90 226.0,443.92 226.5,443.90 227.0,443.86 227.5,443.78 228.0,443.68 228.5,443.56 229.0,443.43 229.5,443.28 230.0,443.12 230.5,442.96 231.0,442.80 231.5,442.64 232.0,442.49 232.5,442.34 233.0,442.18 233.5,442.00 234.0,441.81 234.5,441.61 235.0,441.40 235.5,441.20 236.0,441.02 236.5,440.84 237.0,440.69 237.5,440.56 238.0,440.47 238.5,440.41 239.0,440.40 239.5,440.45 240.0,440.54 240.5,440.68 241.0,440.84 241.5,441.02 242.0,441.22 242.5,441.41 243.0,441.60 243.5,441.76 244.0,441.90 244.5,442.02 245.0,442.13 245.5,442.25 246.0,442.36 246.5,442.47 247.0,442.57 247.5,442.66 248.0,442.75 248.5,442.84 249.0,442.91 249.5,442.97 250.0,443.03 250.5,443.07 251.0,443.10 251.5,443.08 252.0,442.98 252.5,442.82 253.0,442.60 253.5,442.34 254.0,442.05 254.5,441.74 255.0,441.43 255.5,441.12 256.0,440.80 256.5,440.35 257.0,439.80 257.5,439.17 258.0,438.50 258.5,437.67 259.0,436.61 259.5,435.36 260.0,434.00 260.5,432.42 261.0,430.58 261.5,428.63 262.0,426.72 262.5,425.00 263.0,423.40 263.5,421.82 264.0,420.33 264.5,419.04 265.0,418.00 265.5,417.15 266.0,416.39 266.5,415.74 267.0,415.27 267.5,415.00 268.0,414.96 268.5,415.11 269.0,415.44 269.5,415.91 270.0,416.50 270.5,417.34 271.0,418.51 271.5,419.92 272.0,421.45 272.5,423.00 273.0,424.69 273.5,426.58 274.0,428.53 274.5,430.39 275.0,432.00 275.5,433.42 276.0,434.79 276.5,436.08 277.0,437.23 277.5,438.22 278.0,439.00 278.5,439.66 279.0,440.31 279.5,440.91 280.0,441.45 280.5,441.91 281.0,442.27 281.5,442.50 282.0,442.66 282.5,442.82 283.0,442.95 283.5,443.03 284.0,443.05 284.5,443.00 285.0,442.88 285.5,442.72 286.0,442.53 286.5,442.30 287.0,442.05 287.5,441.79 288.0,441.50 288.5,441.19 289.0,440.84 289.5,440.46 290.0,440.06 290.5,439.66 291.0,439.26 291.5,438.87 292.0,438.50 292.5,438.14 293.0,437.76 293.5,437.40 294.0,437.06 294.5,436.75 295.0,436.50 295.5,436.30 296.0,436.14 296.5,436.01 297.0,435.89 297.5,435.77 298.0,435.65 298.5,435.50 299.0,435.32 299.5,435.11 300.0,434.87 300.5,434.60 301.0,434.09 301.5,433.19 302.0,432.02 302.5,430.68 303.0,429.07 303.5,426.90 304.0,424.32 304.5,421.49 305.0,418.56 305.5,415.62 306.0,412.47 306.5,409.12 307.0,405.61 307.5,401.97 308.0,398.24 308.5,394.12 309.0,389.77 309.5,385.58 310.0,381.83 310.5,378.10 311.0,374.88 311.5,372.90 312.0,371.95 312.5,371.39 313.0,371.34 313.5,371.66 314.0,372.27 314.5,373.09 315.0,374.63 315.5,376.91 316.0,379.65 316.5,382.61 317.0,386.10 317.5,390.07 318.0,394.10 318.5,397.88 319.0,401.60 319.5,405.27 320.0,408.79 320.5,412.11 321.0,415.39 321.5,418.49 322.0,421.22 322.5,423.43 323.0,425.45 323.5,427.31 324.0,428.95 324.5,430.29 325.0,431.27 325.5,432.11 326.0,432.91 326.5,433.67 327.0,434.37 327.5,435.01 328.0,435.58 328.5,436.06 329.0,436.45 329.5,436.84 330.0,437.21 330.5,437.57 331.0,437.87 331.5,438.11 332.0,438.26 332.5,438.31 333.0,438.23 333.5,438.00 334.0,437.63 334.5,437.14 335.0,436.57 335.5,435.93 336.0,435.24 336.5,434.54 337.0,433.75 337.5,432.76 338.0,431.66 338.5,430.57 339.0,429.59 339.5,428.80 340.0,428.06 340.5,427.37 341.0,426.80 341.5,426.42 342.0,426.30 342.5,426.37 343.0,426.58 343.5,426.90 344.0,427.31 344.5,427.78 345.0,428.29 345.5,428.85 346.0,429.55 346.5,430.32 347.0,431.08 347.5,431.77 348.0,432.32 348.5,432.82 349.0,433.23 349.5,433.54 350.0,433.70 350.5,433.60 351.0,433.19 351.5,432.56 352.0,431.80 352.5,431.00 353.0,430.03 353.5,428.76 354.0,427.28 354.5,425.67 355.0,424.00 355.5,422.23 356.0,420.29 356.5,418.23 357.0,416.11 357.5,414.00 358.0,411.82 358.5,409.53 359.0,407.23 359.5,405.02 360.0,403.00 360.5,401.10 361.0,399.23 361.5,397.52 362.0,396.08 362.5,395.00 363.0,394.18 363.5,393.46 364.0,392.91 364.5,392.57 365.0,392.51 365.5,392.74 366.0,393.20 366.5,393.80 367.0,394.50 367.5,395.42 368.0,396.71 368.5,398.28 369.0,400.07 369.5,402.00 370.0,404.22 370.5,406.80 371.0,409.58 371.5,412.37 372.0,415.00 372.5,417.49 373.0,419.96 373.5,422.39 374.0,424.74 374.5,427.00 375.0,429.29 375.5,431.63 376.0,433.83 376.5,435.68 377.0,437.00 377.5,437.95 378.0,438.76 378.5,439.33 379.0,439.54 379.5,439.36 380.0,439.04 380.5,438.63 381.0,438.14 381.5,437.59 382.0,437.00 382.5,436.31 383.0,435.50 383.5,434.63 384.0,433.80 384.5,433.06 385.0,432.50 385.5,432.05 386.0,431.64 386.5,431.27 387.0,431.00 387.5,430.83 388.0,430.80 388.5,430.88 389.0,431.01 389.5,431.18 390.0,431.38 390.5,431.59 391.0,431.80 391.5,432.04 392.0,432.34 392.5,432.66 393.0,432.98 393.5,433.27 394.0,433.50 394.5,433.48 395.0,433.10 395.5,432.49 396.0,431.75 396.5,431.00 397.0,429.90 397.5,428.10 398.0,425.75 398.5,423.00 399.0,419.30 399.5,414.65 400.0,410.00 400.5,405.64 401.0,401.27 401.5,397.00 402.0,393.04 402.5,389.21 403.0,385.00 403.5,379.53 404.0,373.40 404.5,368.34 405.0,365.03 405.5,362.26 406.0,360.13 406.5,358.80 407.0,357.95 407.5,357.34 408.0,357.22 408.5,357.55 409.0,358.22 409.5,359.16 410.0,360.49 410.5,362.78 411.0,365.71 411.5,368.91 412.0,372.06 412.5,375.47 413.0,379.07 413.5,382.63 414.0,385.94 414.5,389.20 415.0,392.35 415.5,395.13 416.0,397.30 416.5,399.11 417.0,400.74 417.5,402.28 418.0,403.85 418.5,405.49 419.0,407.11 419.5,408.74 420.0,410.40 420.5,412.14 421.0,414.00 421.5,415.97 422.0,418.01 422.5,420.07 423.0,422.10 423.5,424.16 424.0,426.27 424.5,428.35 425.0,430.29 425.5,432.03 426.0,433.70 426.5,435.33 427.0,436.87 427.5,438.24 428.0,439.39 428.5,440.25 429.0,440.82 429.5,441.33 430.0,441.81 430.5,442.24 431.0,442.62 431.5,442.94 432.0,443.18 432.5,443.36 433.0,443.46 433.5,443.55 434.0,443.64 434.5,443.72 435.0,443.80 435.5,443.88 436.0,443.94 436.5,444.00 437.0,444.04 437.5,444.08 438.0,444.10 438.5,444.11 439.0,444.10 439.5,444.08 440.0,444.04 440.5,443.98 441.0,443.90 441.5,443.80"/>
<path d="M80.2,546.5 L83.3,551.2 L87.3,547.1 L89.4,550.2 L92.4,547.1 L94.5,550.2 L97.6,546.5 L100.6,547.8 L103.3,552.2 L105.7,546.1 L107.8,547.1 L109.8,544.1 L112.9,535.9 L114.9,519.6 L116.5,516.1 L119.0,521.6 L121.0,535.9 L124.1,546.1 L128.2,544.1 L131.2,545.7 L134.0,543.6 L136.0,551.0 L138.4,541.0 L140.0,546.0 L142.0,543.0 L145.0,546.0 L149.0,551.0 L152.0,546.0 L154.0,550.4 L156.0,549.0 L160.0,549.0 L164.0,544.0 L168.0,536.0 L169.6,524.0 L171.0,523.0 L173.0,527.0 L176.0,540.0 L179.0,549.0 L182.0,549.0 L185.0,550.0 L189.0,552.0 L192.0,548.0 L196.0,549.0 L200.0,547.0 L205.0,549.0 L210.0,543.6 L214.0,546.0 L220.0,548.0 L225.0,550.0 L230.0,547.0 L234.0,543.6 L236.0,542.5 L238.4,541.3 L241.4,546.1 L243.9,551.0 L246.3,550.3 L248.1,547.9 L249.9,535.2 L252.3,525.5 L254.1,518.3 L256.0,506.2 L257.5,494.1 L258.1,490.2 L260.8,492.3 L263.8,494.3 L265.0,495.9 L268.0,502.6 L269.9,508.6 L271.7,517.0 L272.9,524.9 L274.7,525.5 L277.7,530.4 L280.7,536.4 L282.6,527.3 L285.6,527.3 L287.4,524.9 L289.8,520.7 L292.8,517.0 L295.9,515.3 L298.7,513.3 L302.3,506.8 L304.2,490.3 L306.4,480.3 L308.8,476.6 L310.6,469.3 L313.3,475.7 L317.0,486.7 L320.7,499.5 L324.3,510.5 L328.0,519.7 L329.8,520.6 L334.0,512.0 L337.0,494.0 L340.0,479.0 L342.4,479.0 L345.0,488.0 L348.0,497.0 L350.0,497.0 L353.0,490.0 L354.0,481.0 L357.0,470.0 L360.0,466.0 L363.0,468.0 L366.0,473.0 L369.0,486.0 L372.0,502.0 L374.0,516.0 L377.0,525.0 L379.6,527.0 L383.0,522.7 L386.3,515.2 L388.8,513.1 L391.3,510.3 L393.2,504.5 L395.4,494.6 L397.9,481.4 L400.3,476.1 L403.6,477.3 L406.9,483.0 L409.4,493.0 L412.7,511.1 L415.2,526.0 L417.7,540.8 L420.1,549.9 L422.6,549.4 L425.9,546.6 L428.4,549.9 L430.9,550.4 L434.2,550.4" stroke-width="2"/>
</g>
<g font-family='"Liberation Sans", sans-serif' font-size="15" fill="#000">
<text x="122.4" y="505.0">a</text>
<text x="176.4" y="511.0">b</text>
<text x="213.4" y="528.0">c</text>
<text x="242.4" y="519.0">d</text>
<text x="264.7" y="484.8">e</text>
<text x="295.3" y="482.0">f</text>
<text x="314.4" y="466.5">g</text>
<text x="345.4" y="473.5">h</text>
<text x="363.4" y="462.8">i</text>
<text x="389.4" y="478.0">j</text>
<text x="407.4" y="473.0">k</text>
</g>
<defs><radialGradient id="gc" cx="0.38" cy="0.33" r="0.7"><stop offset="0" stop-color="#cfcfcf"/><stop offset="0.45" stop-color="#808080"/><stop offset="1" stop-color="#333"/></radialGradient><radialGradient id="gh" cx="0.38" cy="0.33" r="0.7"><stop offset="0" stop-color="#e8e8e8"/><stop offset="0.5" stop-color="#a8a8a8"/><stop offset="1" stop-color="#5e5e5e"/></radialGradient></defs>
<g stroke="#a8a8a8" stroke-width="1.5" stroke-linecap="round">
<line x1="487.1" y1="39.6" x2="481.1" y2="28.0"/>
<line x1="477.2" y1="55.7" x2="462.2" y2="56.2"/>
<line x1="486.4" y1="72.7" x2="478.0" y2="84.7"/>
<line x1="505.7" y1="72.7" x2="513.0" y2="86.0"/>
<line x1="518.3" y1="21.4" x2="512.3" y2="11.0"/>
<line x1="518.3" y1="21.4" x2="520.2" y2="14.2"/>
<line x1="538.9" y1="24.8" x2="546.8" y2="14.7"/>
<line x1="538.9" y1="24.8" x2="536.7" y2="30.4"/>
<line x1="568.6" y1="41.2" x2="573.0" y2="28.0"/>
<line x1="568.6" y1="41.2" x2="577.0" y2="37.6"/>
<line x1="578.2" y1="55.7" x2="594.7" y2="55.7"/>
<line x1="567.4" y1="70.2" x2="573.4" y2="82.3"/>
<line x1="548.0" y1="70.2" x2="539.1" y2="81.8"/>
<line x1="487.1" y1="39.6" x2="506.5" y2="39.6"/>
<line x1="506.5" y1="39.6" x2="516.6" y2="56.5"/>
<line x1="516.6" y1="56.5" x2="505.7" y2="72.7"/>
<line x1="505.7" y1="72.7" x2="486.4" y2="72.7"/>
<line x1="486.4" y1="72.7" x2="477.2" y2="55.7"/>
<line x1="477.2" y1="55.7" x2="487.1" y2="39.6"/>
<line x1="506.5" y1="39.6" x2="518.3" y2="21.4"/>
<line x1="518.3" y1="21.4" x2="538.9" y2="24.8"/>
<line x1="538.9" y1="24.8" x2="548.0" y2="41.2"/>
<line x1="548.0" y1="41.2" x2="537.6" y2="56.2"/>
<line x1="516.6" y1="56.5" x2="537.6" y2="56.2"/>
<line x1="537.6" y1="56.2" x2="548.0" y2="70.2"/>
<line x1="548.0" y1="70.2" x2="567.4" y2="70.2"/>
<line x1="567.4" y1="70.2" x2="578.2" y2="55.7"/>
<line x1="578.2" y1="55.7" x2="568.6" y2="41.2"/>
<line x1="568.6" y1="41.2" x2="548.0" y2="41.2"/>
</g>
<line x1="491.6" y1="42.2" x2="502.0" y2="42.2" stroke="#888" stroke-width="1.1" stroke-dasharray="1.6 2"/>
<line x1="506.5" y1="44.7" x2="512.0" y2="53.9" stroke="#888" stroke-width="1.1" stroke-dasharray="1.6 2"/>
<line x1="511.8" y1="58.9" x2="506.0" y2="67.7" stroke="#888" stroke-width="1.1" stroke-dasharray="1.6 2"/>
<line x1="501.3" y1="70.1" x2="491.0" y2="70.1" stroke="#888" stroke-width="1.1" stroke-dasharray="1.6 2"/>
<line x1="486.5" y1="67.5" x2="481.6" y2="58.4" stroke="#888" stroke-width="1.1" stroke-dasharray="1.6 2"/>
<line x1="481.8" y1="53.2" x2="487.0" y2="44.8" stroke="#888" stroke-width="1.1" stroke-dasharray="1.6 2"/>
<line x1="542.6" y1="58.7" x2="547.7" y2="65.4" stroke="#888" stroke-width="1.1" stroke-dasharray="1.6 2"/>
<line x1="552.5" y1="67.6" x2="562.9" y2="67.6" stroke="#888" stroke-width="1.1" stroke-dasharray="1.6 2"/>
<line x1="547.8" y1="46.0" x2="542.5" y2="53.6" stroke="#888" stroke-width="1.1" stroke-dasharray="1.6 2"/>
<line x1="567.7" y1="65.5" x2="573.2" y2="58.2" stroke="#a8a8a8" stroke-width="1.4"/>
<circle cx="481.1" cy="28.0" r="2.85" fill="url(#gh)"/>
<circle cx="462.2" cy="56.2" r="2.85" fill="url(#gh)"/>
<circle cx="478.0" cy="84.7" r="2.85" fill="url(#gh)"/>
<circle cx="513.0" cy="86.0" r="2.85" fill="url(#gh)"/>
<circle cx="512.3" cy="11.0" r="2.85" fill="url(#gh)"/>
<circle cx="520.2" cy="14.2" r="2.85" fill="url(#gh)"/>
<circle cx="546.8" cy="14.7" r="2.85" fill="url(#gh)"/>
<circle cx="536.7" cy="30.4" r="2.85" fill="url(#gh)"/>
<circle cx="573.0" cy="28.0" r="2.85" fill="url(#gh)"/>
<circle cx="577.0" cy="37.6" r="2.85" fill="url(#gh)"/>
<circle cx="594.7" cy="55.7" r="2.85" fill="url(#gh)"/>
<circle cx="573.4" cy="82.3" r="2.85" fill="url(#gh)"/>
<circle cx="539.1" cy="81.8" r="2.85" fill="url(#gh)"/>
<circle cx="487.1" cy="39.6" r="4.1" fill="url(#gc)"/>
<circle cx="506.5" cy="39.6" r="4.1" fill="url(#gc)"/>
<circle cx="516.6" cy="56.5" r="4.1" fill="url(#gc)"/>
<circle cx="505.7" cy="72.7" r="4.1" fill="url(#gc)"/>
<circle cx="486.4" cy="72.7" r="4.1" fill="url(#gc)"/>
<circle cx="477.2" cy="55.7" r="4.1" fill="url(#gc)"/>
<circle cx="518.3" cy="21.4" r="4.1" fill="url(#gc)"/>
<circle cx="538.9" cy="24.8" r="4.1" fill="url(#gc)"/>
<circle cx="548.0" cy="41.2" r="4.1" fill="url(#gc)"/>
<circle cx="537.6" cy="56.2" r="4.1" fill="url(#gc)"/>
<circle cx="548.0" cy="70.2" r="4.1" fill="url(#gc)"/>
<circle cx="567.4" cy="70.2" r="4.1" fill="url(#gc)"/>
<circle cx="578.2" cy="55.7" r="4.1" fill="url(#gc)"/>
<circle cx="568.6" cy="41.2" r="4.1" fill="url(#gc)"/>
<text x="525.2" y="113.9" font-family='"Liberation Sans", sans-serif' font-size="14.5" text-anchor="middle">8.3 kcal/mol</text>
<g stroke="#a8a8a8" stroke-width="1.5" stroke-linecap="round">
<line x1="486.0" y1="160.8" x2="479.2" y2="147.5"/>
<line x1="476.8" y1="177.7" x2="461.8" y2="177.5"/>
<line x1="485.9" y1="194.6" x2="478.0" y2="208.4"/>
<line x1="505.6" y1="195.0" x2="511.8" y2="209.1"/>
<line x1="517.3" y1="142.4" x2="508.2" y2="131.8"/>
<line x1="517.3" y1="142.4" x2="523.9" y2="136.6"/>
<line x1="532.8" y1="147.2" x2="542.0" y2="134.7"/>
<line x1="532.8" y1="147.2" x2="526.3" y2="151.1"/>
<line x1="565.0" y1="163.2" x2="572.2" y2="150.4"/>
<line x1="577.0" y1="177.7" x2="592.8" y2="177.0"/>
<line x1="568.1" y1="193.4" x2="577.0" y2="195.1"/>
<line x1="568.1" y1="193.4" x2="572.2" y2="206.7"/>
<line x1="548.0" y1="193.4" x2="542.0" y2="204.3"/>
<line x1="486.0" y1="160.8" x2="506.0" y2="160.8"/>
<line x1="506.0" y1="160.8" x2="515.6" y2="178.2"/>
<line x1="515.6" y1="178.2" x2="505.6" y2="195.0"/>
<line x1="505.6" y1="195.0" x2="485.9" y2="194.6"/>
<line x1="485.9" y1="194.6" x2="476.8" y2="177.7"/>
<line x1="476.8" y1="177.7" x2="486.0" y2="160.8"/>
<line x1="506.0" y1="160.8" x2="517.3" y2="142.4"/>
<line x1="517.3" y1="142.4" x2="532.8" y2="147.2"/>
<line x1="532.8" y1="147.2" x2="545.6" y2="163.2"/>
<line x1="545.6" y1="163.2" x2="537.2" y2="179.4"/>
<line x1="515.6" y1="178.2" x2="537.2" y2="179.4"/>
<line x1="537.2" y1="179.4" x2="548.0" y2="193.4"/>
<line x1="548.0" y1="193.4" x2="568.1" y2="193.4"/>
<line x1="568.1" y1="193.4" x2="577.0" y2="177.7"/>
<line x1="577.0" y1="177.7" x2="565.0" y2="163.2"/>
<line x1="565.0" y1="163.2" x2="545.6" y2="163.2"/>
</g>
<line x1="490.5" y1="163.4" x2="501.5" y2="163.4" stroke="#888" stroke-width="1.1" stroke-dasharray="1.6 2"/>
<line x1="505.9" y1="166.0" x2="511.2" y2="175.5" stroke="#888" stroke-width="1.1" stroke-dasharray="1.6 2"/>
<line x1="511.1" y1="180.7" x2="505.7" y2="189.8" stroke="#888" stroke-width="1.1" stroke-dasharray="1.6 2"/>
<line x1="501.1" y1="192.3" x2="490.4" y2="192.1" stroke="#888" stroke-width="1.1" stroke-dasharray="1.6 2"/>
<line x1="486.0" y1="189.4" x2="481.2" y2="180.4" stroke="#888" stroke-width="1.1" stroke-dasharray="1.6 2"/>
<line x1="481.2" y1="175.1" x2="486.1" y2="166.1" stroke="#888" stroke-width="1.1" stroke-dasharray="1.6 2"/>
<line x1="550.4" y1="165.8" x2="560.8" y2="165.8" stroke="#888" stroke-width="1.1" stroke-dasharray="1.6 2"/>
<line x1="542.2" y1="181.7" x2="547.5" y2="188.6" stroke="#a8a8a8" stroke-width="1.4"/>
<line x1="571.9" y1="175.5" x2="565.6" y2="167.9" stroke="#a8a8a8" stroke-width="1.4"/>
<circle cx="479.2" cy="147.5" r="2.85" fill="url(#gh)"/>
<circle cx="461.8" cy="177.5" r="2.85" fill="url(#gh)"/>
<circle cx="478.0" cy="208.4" r="2.85" fill="url(#gh)"/>
<circle cx="511.8" cy="209.1" r="2.85" fill="url(#gh)"/>
<circle cx="508.2" cy="131.8" r="2.85" fill="url(#gh)"/>
<circle cx="523.9" cy="136.6" r="2.85" fill="url(#gh)"/>
<circle cx="542.0" cy="134.7" r="2.85" fill="url(#gh)"/>
<circle cx="526.3" cy="151.1" r="2.85" fill="url(#gh)"/>
<circle cx="572.2" cy="150.4" r="2.85" fill="url(#gh)"/>
<circle cx="592.8" cy="177.0" r="2.85" fill="url(#gh)"/>
<circle cx="577.0" cy="195.1" r="2.85" fill="url(#gh)"/>
<circle cx="572.2" cy="206.7" r="2.85" fill="url(#gh)"/>
<circle cx="542.0" cy="204.3" r="2.85" fill="url(#gh)"/>
<circle cx="486.0" cy="160.8" r="4.1" fill="url(#gc)"/>
<circle cx="506.0" cy="160.8" r="4.1" fill="url(#gc)"/>
<circle cx="515.6" cy="178.2" r="4.1" fill="url(#gc)"/>
<circle cx="505.6" cy="195.0" r="4.1" fill="url(#gc)"/>
<circle cx="485.9" cy="194.6" r="4.1" fill="url(#gc)"/>
<circle cx="476.8" cy="177.7" r="4.1" fill="url(#gc)"/>
<circle cx="517.3" cy="142.4" r="4.1" fill="url(#gc)"/>
<circle cx="532.8" cy="147.2" r="4.1" fill="url(#gc)"/>
<circle cx="545.6" cy="163.2" r="4.1" fill="url(#gc)"/>
<circle cx="537.2" cy="179.4" r="4.1" fill="url(#gc)"/>
<circle cx="548.0" cy="193.4" r="4.1" fill="url(#gc)"/>
<circle cx="568.1" cy="193.4" r="4.1" fill="url(#gc)"/>
<circle cx="577.0" cy="177.7" r="4.1" fill="url(#gc)"/>
<circle cx="565.0" cy="163.2" r="4.1" fill="url(#gc)"/>
<text x="529.3" y="231.2" font-family='"Liberation Sans", sans-serif' font-size="14.5" text-anchor="middle">6.9 kcal/mol</text>
<g stroke="#a8a8a8" stroke-width="1.5" stroke-linecap="round">
<line x1="490.0" y1="271.3" x2="483.5" y2="258.7"/>
<line x1="479.6" y1="287.7" x2="464.7" y2="286.2"/>
<line x1="488.8" y1="304.6" x2="479.2" y2="316.7"/>
<line x1="508.2" y1="304.6" x2="515.0" y2="317.2"/>
<line x1="520.7" y1="253.1" x2="515.0" y2="244.2"/>
<line x1="520.7" y1="253.1" x2="523.2" y2="245.9"/>
<line x1="540.8" y1="258.0" x2="550.5" y2="245.2"/>
<line x1="540.8" y1="258.0" x2="539.6" y2="263.5"/>
<line x1="570.5" y1="273.2" x2="579.5" y2="261.6"/>
<line x1="579.5" y1="287.7" x2="596.4" y2="286.2"/>
<line x1="569.8" y1="302.7" x2="577.0" y2="312.8"/>
<line x1="549.2" y1="303.1" x2="544.4" y2="303.9"/>
<line x1="549.2" y1="303.1" x2="545.6" y2="317.2"/>
<line x1="490.0" y1="271.3" x2="510.1" y2="271.3"/>
<line x1="510.1" y1="271.3" x2="519.0" y2="288.2"/>
<line x1="519.0" y1="288.2" x2="508.2" y2="304.6"/>
<line x1="508.2" y1="304.6" x2="488.8" y2="304.6"/>
<line x1="488.8" y1="304.6" x2="479.6" y2="287.7"/>
<line x1="479.6" y1="287.7" x2="490.0" y2="271.3"/>
<line x1="510.1" y1="271.3" x2="520.7" y2="253.1"/>
<line x1="520.7" y1="253.1" x2="540.8" y2="258.0"/>
<line x1="540.8" y1="258.0" x2="550.9" y2="273.2"/>
<line x1="550.9" y1="273.2" x2="539.6" y2="288.6"/>
<line x1="519.0" y1="288.2" x2="539.6" y2="288.6"/>
<line x1="539.6" y1="288.6" x2="549.2" y2="303.1"/>
<line x1="549.2" y1="303.1" x2="569.8" y2="302.7"/>
<line x1="569.8" y1="302.7" x2="579.5" y2="287.7"/>
<line x1="579.5" y1="287.7" x2="570.5" y2="273.2"/>
<line x1="570.5" y1="273.2" x2="550.9" y2="273.2"/>
</g>
<line x1="494.4" y1="273.9" x2="505.5" y2="273.9" stroke="#888" stroke-width="1.1" stroke-dasharray="1.6 2"/>
<line x1="509.9" y1="276.5" x2="514.6" y2="285.4" stroke="#888" stroke-width="1.1" stroke-dasharray="1.6 2"/>
<line x1="514.3" y1="290.6" x2="508.4" y2="299.5" stroke="#888" stroke-width="1.1" stroke-dasharray="1.6 2"/>
<line x1="503.8" y1="302.0" x2="493.4" y2="302.0" stroke="#888" stroke-width="1.1" stroke-dasharray="1.6 2"/>
<line x1="488.9" y1="299.4" x2="484.0" y2="290.4" stroke="#888" stroke-width="1.1" stroke-dasharray="1.6 2"/>
<line x1="484.3" y1="285.2" x2="489.8" y2="276.4" stroke="#888" stroke-width="1.1" stroke-dasharray="1.6 2"/>
<line x1="523.6" y1="290.9" x2="535.2" y2="291.1" stroke="#888" stroke-width="1.1" stroke-dasharray="1.6 2"/>
<line x1="555.3" y1="275.8" x2="565.9" y2="275.8" stroke="#888" stroke-width="1.1" stroke-dasharray="1.6 2"/>
<line x1="550.6" y1="278.0" x2="544.6" y2="286.1" stroke="#888" stroke-width="1.1" stroke-dasharray="1.6 2"/>
<line x1="570.6" y1="278.2" x2="574.8" y2="285.1" stroke="#888" stroke-width="1.1" stroke-dasharray="1.6 2"/>
<line x1="574.7" y1="290.3" x2="569.9" y2="297.8" stroke="#a8a8a8" stroke-width="1.4"/>
<circle cx="483.5" cy="258.7" r="2.85" fill="url(#gh)"/>
<circle cx="464.7" cy="286.2" r="2.85" fill="url(#gh)"/>
<circle cx="479.2" cy="316.7" r="2.85" fill="url(#gh)"/>
<circle cx="515.0" cy="317.2" r="2.85" fill="url(#gh)"/>
<circle cx="515.0" cy="244.2" r="2.85" fill="url(#gh)"/>
<circle cx="523.2" cy="245.9" r="2.85" fill="url(#gh)"/>
<circle cx="550.5" cy="245.2" r="2.85" fill="url(#gh)"/>
<circle cx="539.6" cy="263.5" r="2.85" fill="url(#gh)"/>
<circle cx="579.5" cy="261.6" r="2.85" fill="url(#gh)"/>
<circle cx="596.4" cy="286.2" r="2.85" fill="url(#gh)"/>
<circle cx="577.0" cy="312.8" r="2.85" fill="url(#gh)"/>
<circle cx="544.4" cy="303.9" r="2.85" fill="url(#gh)"/>
<circle cx="545.6" cy="317.2" r="2.85" fill="url(#gh)"/>
<circle cx="490.0" cy="271.3" r="4.1" fill="url(#gc)"/>
<circle cx="510.1" cy="271.3" r="4.1" fill="url(#gc)"/>
<circle cx="519.0" cy="288.2" r="4.1" fill="url(#gc)"/>
<circle cx="508.2" cy="304.6" r="4.1" fill="url(#gc)"/>
<circle cx="488.8" cy="304.6" r="4.1" fill="url(#gc)"/>
<circle cx="479.6" cy="287.7" r="4.1" fill="url(#gc)"/>
<circle cx="520.7" cy="253.1" r="4.1" fill="url(#gc)"/>
<circle cx="540.8" cy="258.0" r="4.1" fill="url(#gc)"/>
<circle cx="550.9" cy="273.2" r="4.1" fill="url(#gc)"/>
<circle cx="539.6" cy="288.6" r="4.1" fill="url(#gc)"/>
<circle cx="549.2" cy="303.1" r="4.1" fill="url(#gc)"/>
<circle cx="569.8" cy="302.7" r="4.1" fill="url(#gc)"/>
<circle cx="579.5" cy="287.7" r="4.1" fill="url(#gc)"/>
<circle cx="570.5" cy="273.2" r="4.1" fill="url(#gc)"/>
<text x="524.8" y="338.8" font-family='"Liberation Sans", sans-serif' font-size="14.5" text-anchor="middle">2.2 kcal/mol</text>
<g stroke="#a8a8a8" stroke-width="1.5" stroke-linecap="round">
<line x1="487.6" y1="385.8" x2="479.2" y2="373.0"/>
<line x1="477.2" y1="401.1" x2="461.8" y2="401.8"/>
<line x1="486.9" y1="418.0" x2="479.7" y2="431.5"/>
<line x1="507.0" y1="418.0" x2="514.2" y2="431.5"/>
<line x1="518.3" y1="366.4" x2="509.4" y2="355.9"/>
<line x1="518.3" y1="366.4" x2="520.2" y2="358.3"/>
<line x1="537.0" y1="369.3" x2="545.6" y2="356.6"/>
<line x1="537.0" y1="369.3" x2="532.3" y2="375.2"/>
<line x1="566.6" y1="385.8" x2="574.6" y2="373.5"/>
<line x1="578.2" y1="400.5" x2="588.4" y2="394.5"/>
<line x1="578.2" y1="400.5" x2="587.4" y2="405.0"/>
<line x1="567.4" y1="416.0" x2="574.6" y2="427.2"/>
<line x1="548.0" y1="416.0" x2="540.1" y2="428.4"/>
<line x1="487.6" y1="385.8" x2="506.6" y2="385.8"/>
<line x1="506.6" y1="385.8" x2="516.6" y2="401.8"/>
<line x1="516.6" y1="401.8" x2="507.0" y2="418.0"/>
<line x1="507.0" y1="418.0" x2="486.9" y2="418.0"/>
<line x1="486.9" y1="418.0" x2="477.2" y2="401.1"/>
<line x1="477.2" y1="401.1" x2="487.6" y2="385.8"/>
<line x1="506.6" y1="385.8" x2="518.3" y2="366.4"/>
<line x1="518.3" y1="366.4" x2="537.0" y2="369.3"/>
<line x1="537.0" y1="369.3" x2="548.0" y2="385.8"/>
<line x1="548.0" y1="385.8" x2="537.6" y2="401.4"/>
<line x1="516.6" y1="401.8" x2="537.6" y2="401.4"/>
<line x1="537.6" y1="401.4" x2="548.0" y2="416.0"/>
<line x1="548.0" y1="416.0" x2="567.4" y2="416.0"/>
<line x1="567.4" y1="416.0" x2="578.2" y2="400.5"/>
<line x1="578.2" y1="400.5" x2="566.6" y2="385.8"/>
<line x1="566.6" y1="385.8" x2="548.0" y2="385.8"/>
</g>
<line x1="492.1" y1="388.4" x2="502.1" y2="388.4" stroke="#888" stroke-width="1.1" stroke-dasharray="1.6 2"/>
<line x1="506.7" y1="390.9" x2="511.9" y2="399.2" stroke="#888" stroke-width="1.1" stroke-dasharray="1.6 2"/>
<line x1="512.0" y1="404.4" x2="507.0" y2="412.9" stroke="#888" stroke-width="1.1" stroke-dasharray="1.6 2"/>
<line x1="502.5" y1="415.4" x2="491.4" y2="415.4" stroke="#888" stroke-width="1.1" stroke-dasharray="1.6 2"/>
<line x1="487.0" y1="412.9" x2="481.7" y2="403.8" stroke="#888" stroke-width="1.1" stroke-dasharray="1.6 2"/>
<line x1="482.0" y1="398.7" x2="487.3" y2="390.8" stroke="#888" stroke-width="1.1" stroke-dasharray="1.6 2"/>
<line x1="521.2" y1="404.3" x2="533.2" y2="404.1" stroke="#888" stroke-width="1.1" stroke-dasharray="1.6 2"/>
<line x1="547.8" y1="390.7" x2="542.4" y2="398.8" stroke="#888" stroke-width="1.1" stroke-dasharray="1.6 2"/>
<line x1="542.5" y1="403.9" x2="547.7" y2="411.1" stroke="#888" stroke-width="1.1" stroke-dasharray="1.6 2"/>
<line x1="552.6" y1="388.4" x2="562.2" y2="388.4" stroke="#a8a8a8" stroke-width="1.4"/>
<line x1="552.5" y1="413.4" x2="562.9" y2="413.4" stroke="#a8a8a8" stroke-width="1.4"/>
<circle cx="479.2" cy="373.0" r="2.85" fill="url(#gh)"/>
<circle cx="461.8" cy="401.8" r="2.85" fill="url(#gh)"/>
<circle cx="479.7" cy="431.5" r="2.85" fill="url(#gh)"/>
<circle cx="514.2" cy="431.5" r="2.85" fill="url(#gh)"/>
<circle cx="509.4" cy="355.9" r="2.85" fill="url(#gh)"/>
<circle cx="520.2" cy="358.3" r="2.85" fill="url(#gh)"/>
<circle cx="545.6" cy="356.6" r="2.85" fill="url(#gh)"/>
<circle cx="532.3" cy="375.2" r="2.85" fill="url(#gh)"/>
<circle cx="574.6" cy="373.5" r="2.85" fill="url(#gh)"/>
<circle cx="588.4" cy="394.5" r="2.85" fill="url(#gh)"/>
<circle cx="587.4" cy="405.0" r="2.85" fill="url(#gh)"/>
<circle cx="574.6" cy="427.2" r="2.85" fill="url(#gh)"/>
<circle cx="540.1" cy="428.4" r="2.85" fill="url(#gh)"/>
<circle cx="487.6" cy="385.8" r="4.1" fill="url(#gc)"/>
<circle cx="506.6" cy="385.8" r="4.1" fill="url(#gc)"/>
<circle cx="516.6" cy="401.8" r="4.1" fill="url(#gc)"/>
<circle cx="507.0" cy="418.0" r="4.1" fill="url(#gc)"/>
<circle cx="486.9" cy="418.0" r="4.1" fill="url(#gc)"/>
<circle cx="477.2" cy="401.1" r="4.1" fill="url(#gc)"/>
<circle cx="518.3" cy="366.4" r="4.1" fill="url(#gc)"/>
<circle cx="537.0" cy="369.3" r="4.1" fill="url(#gc)"/>
<circle cx="548.0" cy="385.8" r="4.1" fill="url(#gc)"/>
<circle cx="537.6" cy="401.4" r="4.1" fill="url(#gc)"/>
<circle cx="548.0" cy="416.0" r="4.1" fill="url(#gc)"/>
<circle cx="567.4" cy="416.0" r="4.1" fill="url(#gc)"/>
<circle cx="578.2" cy="400.5" r="4.1" fill="url(#gc)"/>
<circle cx="566.6" cy="385.8" r="4.1" fill="url(#gc)"/>
<text x="527.3" y="457.7" font-family='"Liberation Sans", sans-serif' font-size="14.5" text-anchor="middle">0.0 kcal/mol</text>
<text x="488.3" y="519.4" font-family='"Liberation Sans", sans-serif' font-size="16.6">IRMPD</text>
</svg>
</body></html>
